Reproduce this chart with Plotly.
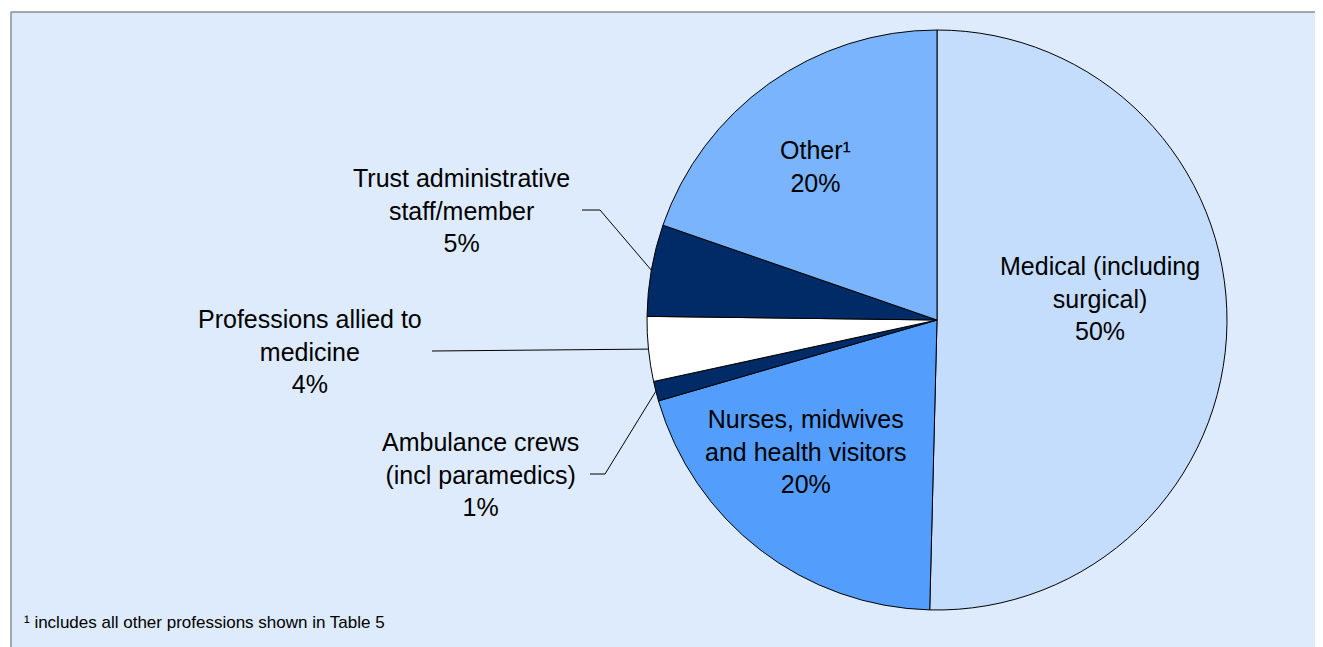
import math
import plotly.graph_objects as go

# page is offset by the browser's default 8px body margin
OFF = 8
W, H = 1323 - OFF, 647 - OFF

categories = ["Medical (including<br>surgical)", "Nurses, midwives<br>and health visitors",
              "Ambulance crews<br>(incl paramedics)", "Professions allied to<br>medicine",
              "Trust administrative<br>staff/member", "Other¹"]
values = [50.4, 20.1, 1.1, 3.6, 5.1, 19.7]
colors = ["#C5DDFC", "#539EFC", "#002B66", "#FFFFFF", "#002B66", "#7AB4FC"]
footnote = "¹ includes all other professions shown in Table 5"


def px(x):
    return (x - OFF) / W


def py(y):
    return 1 - (y - OFF) / H


cx, cy, R = 937, 320, 290

fig = go.Figure(go.Pie(
    labels=categories, values=values, sort=False, direction="clockwise", rotation=0,
    marker=dict(colors=colors, line=dict(color="#000000", width=1)),
    textinfo="none", hoverinfo="label+percent", showlegend=False,
    domain=dict(x=[px(cx - R), px(cx + R)], y=[py(cy + R), py(cy - R)]),
))

total = sum(values)
pcts = [round(v / total * 100) for v in values]

# label centers (page pixels) and leader line start/knee
label_pos = [(1100, 298, None), (806, 451, None), (480, 474, (590, 605)),
             (310, 351, (432, None)), (461, 210, (582, 600)), (815, 166, None)]

FONT = "Liberation Sans, Arial"
annotations = []
frame = "#8C8C8C"
shapes = [
    dict(type="rect", xref="paper", yref="paper", x0=px(11), x1=1, y0=0, y1=py(12),
         fillcolor="#DDEBFD", line=dict(width=0), layer="below"),
    dict(type="line", xref="paper", yref="paper", x0=px(11), x1=1, y0=py(12), y1=py(12),
         line=dict(color=frame, width=1.5), layer="below"),
    dict(type="line", xref="paper", yref="paper", x0=px(11), x1=px(11), y0=0, y1=py(12),
         line=dict(color=frame, width=1.5), layer="below"),
]

cum = 0
for i, (cat, v) in enumerate(zip(categories, values)):
    mid = (cum + v / 2) / total * 2 * math.pi
    cum += v
    lx, ly, lead = label_pos[i]
    annotations.append(dict(x=px(lx), y=py(ly), xref="paper", yref="paper",
                            text=f"{cat}<br>{pcts[i]}%", showarrow=False,
                            font=dict(family=FONT, size=25, color="#000000"),
                            align="center", xanchor="center", yanchor="middle"))
    if lead:
        ex = cx + R * math.sin(mid)
        ey = cy - R * math.cos(mid)
        x0, xk = lead
        pts = [(x0, ly), (ex, ey)] if xk is None else [(x0, ly), (xk, ly), (ex, ey)]
        for (a, b), (c, d) in zip(pts[:-1], pts[1:]):
            shapes.append(dict(type="line", xref="paper", yref="paper", x0=px(a), y0=py(b),
                               x1=px(c), y1=py(d), line=dict(color="#000000", width=1)))

annotations.append(dict(x=px(22), y=py(622), xref="paper", yref="paper",
                        text=footnote, showarrow=False,
                        font=dict(family=FONT, size=17, color="#000000"),
                        xanchor="left", yanchor="middle"))

fig.update_layout(width=W, height=H, margin=dict(l=0, r=0, t=0, b=0),
                  paper_bgcolor="#FFFFFF", plot_bgcolor="#FFFFFF",
                  shapes=shapes, annotations=annotations)

fig.write_html("out.html")
